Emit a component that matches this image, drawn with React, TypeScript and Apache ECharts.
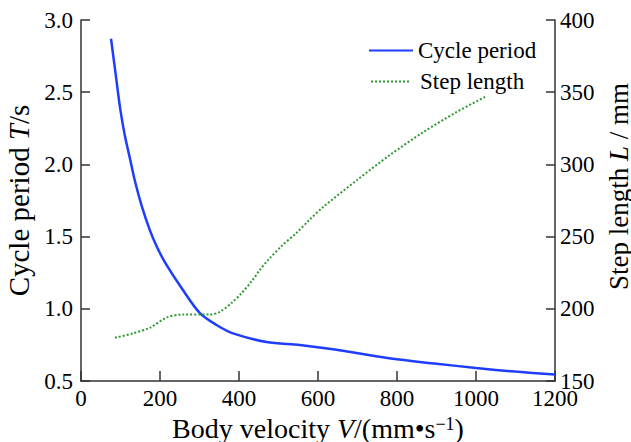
import React, { useEffect, useRef } from "react";
import * as echarts from "echarts";

// Cycle period T (s) vs body velocity V (mm/s)
const periodV = [76, 88, 99, 111, 124, 137, 154, 175, 192, 213, 258, 301, 343, 385, 470, 554, 638, 800, 900, 1000, 1100, 1200];
const periodT = [2.87, 2.62, 2.39, 2.2, 2.04, 1.88, 1.71, 1.54, 1.43, 1.32, 1.13, 0.97, 0.888, 0.83, 0.77, 0.75, 0.72, 0.65, 0.62, 0.59, 0.565, 0.545];

// Step length L (mm) vs body velocity V (mm/s)
const stepV = [86, 132, 175, 217, 258, 327, 352, 381, 407, 432, 453, 476, 508, 546, 578, 613, 698, 782, 867, 951, 1023];
const stepL = [180, 183, 187, 194, 196, 196, 198, 204, 211, 219, 227, 234.5, 243.5, 252.7, 261.5, 270.5, 289, 306.5, 322.4, 336.3, 346.7];

const FONT = "Liberation Serif";
const FS = 23;

export default function App() {
  const ref = useRef<HTMLDivElement>(null);
  useEffect(() => {
    if (!ref.current) return;
    const chart = echarts.init(ref.current, null, { renderer: "svg" });
    const axisLine = { show: true, lineStyle: { color: "#333", width: 1.5 } };
    const tick = (len: number) => ({ show: true, inside: true, length: len, lineStyle: { color: "#333", width: 1.5 } });
    chart.setOption({
      animation: false,
      backgroundColor: "#fff",
      textStyle: { fontFamily: FONT, color: "#000" },
      grid: { left: 81, right: 76, top: 20, bottom: 61, containLabel: false, outerBoundsMode: "none" },
      legend: [
        {
          data: ["Cycle period"],
          left: 363,
          top: 34,
          orient: "vertical",
          itemWidth: 44,
          itemHeight: 14,
          itemStyle: { opacity: 0 },
          textStyle: { fontFamily: FONT, fontSize: FS, color: "#000" },
        },
        {
          data: ["Step length"],
          left: 365,
          top: 65,
          orient: "vertical",
          itemWidth: 38,
          itemHeight: 14,
          itemStyle: { opacity: 0 },
          textStyle: { fontFamily: FONT, fontSize: FS, color: "#000", padding: [0, 0, 0, 6] },
        },
      ],
      xAxis: {
        type: "value",
        min: 0,
        max: 1200,
        interval: 200,
        name: "Body velocity {i|V}/(mm•s{sup|−1})",
        nameLocation: "middle",
        nameGap: 33,
        nameTextStyle: {
          fontFamily: FONT,
          fontSize: 28,
          color: "#000",
          rich: {
            i: { fontFamily: FONT, fontSize: 28, fontStyle: "italic", color: "#000" },
            sup: { fontFamily: FONT, fontSize: 18, verticalAlign: "top", color: "#000" },
          },
        },
        axisLine,
        axisTick: tick(10),
        axisLabel: { fontFamily: FONT, fontSize: FS, color: "#000", margin: 6, formatter: (v: number) => String(v) },
        splitLine: { show: false },
      },
      yAxis: [
        {
          type: "value",
          position: "left",
          min: 0.5,
          max: 3.0,
          interval: 0.5,
          name: "Cycle period {i|T}/s",
          nameLocation: "middle",
          nameGap: 46,
          nameTextStyle: {
            fontFamily: FONT,
            fontSize: 29,
            color: "#000",
            rich: { i: { fontFamily: FONT, fontSize: 29, fontStyle: "italic", color: "#000" } },
          },
          axisLine,
          axisTick: tick(9),
          axisLabel: { fontFamily: FONT, fontSize: FS, color: "#000", margin: 8, formatter: (v: number) => v.toFixed(1) },
          splitLine: { show: false },
        },
        {
          type: "value",
          position: "right",
          min: 150,
          max: 400,
          interval: 50,
          name: "Step length {i|L} / mm",
          nameLocation: "middle",
          nameGap: 39,
          nameTextStyle: {
            fontFamily: FONT,
            fontSize: 27,
            lineHeight: 27,
            color: "#000",
            padding: [0, 0, 0, 28],
            rich: { i: { fontFamily: FONT, fontSize: 27, lineHeight: 27, fontStyle: "italic", color: "#000" } },
          },
          axisLine,
          axisTick: tick(9),
          axisLabel: { fontFamily: FONT, fontSize: FS, color: "#000", margin: 5 },
          splitLine: { show: false },
        },
      ],
      series: [
        {
          name: "Cycle period",
          type: "line",
          yAxisIndex: 0,
          data: periodV.map((v, i) => [v, periodT[i]]),
          smooth: 0.3,
          symbol: "none",
          itemStyle: { color: "#1f3dff" },
          lineStyle: { color: "#1f3dff", width: 2.5 },
        },
        {
          name: "Step length",
          type: "line",
          yAxisIndex: 1,
          data: stepV.map((v, i) => [v, stepL[i]]),
          smooth: 0.3,
          symbol: "none",
          itemStyle: { color: "#2e9b2e" },
          lineStyle: { color: "#2e9b2e", width: 2, type: [2, 2] },
        },
      ],
    });
    return () => chart.dispose();
  }, []);
  return <div ref={ref} style={{ width: 631, height: 442, position: "absolute", left: 0, top: 0 }} />;
}
